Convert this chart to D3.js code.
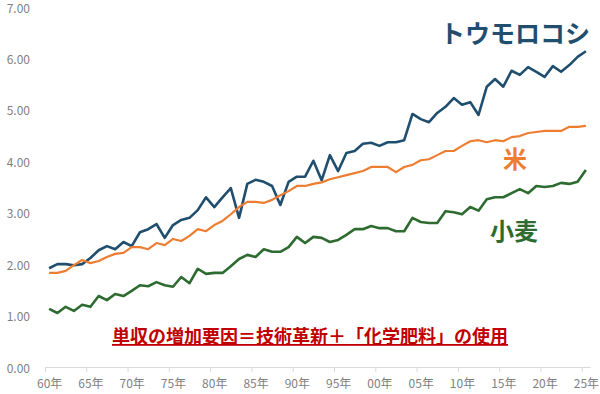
<!DOCTYPE html>
<html>
<head>
<meta charset="utf-8">
<script src="https://cdn.jsdelivr.net/npm/d3@7"></script>
<style>
  body { margin: 0; background: #fff; }
  text { font-family: "Noto Sans CJK JP", "Noto Sans", sans-serif; }
</style>
</head>
<body>
<div id="chart"></div>
<script>
// years 1960 - 2025
const years = d3.range(1960, 2026);

// yields (t/ha)
const corn = [1.92, 2.00, 2.00, 1.98, 2.00, 2.12, 2.27, 2.35, 2.29, 2.43,
  2.35, 2.62, 2.68, 2.78, 2.51, 2.76, 2.86, 2.90, 3.05, 3.30,
  3.11, 3.30, 3.48, 2.90, 3.56, 3.64, 3.60, 3.52, 3.15, 3.60,
  3.70, 3.70, 4.01, 3.63, 4.12, 3.81, 4.16, 4.20, 4.34, 4.36,
  4.30, 4.37, 4.37, 4.41, 4.92, 4.82, 4.76, 4.94, 5.06, 5.23,
  5.10, 5.15, 4.90, 5.45, 5.60, 5.45, 5.76, 5.68, 5.83, 5.74,
  5.64, 5.85, 5.74, 5.87, 6.03, 6.14];
const rice = [1.83, 1.83, 1.87, 1.98, 2.08, 2.02, 2.06, 2.14, 2.20, 2.22,
  2.33, 2.33, 2.29, 2.41, 2.37, 2.49, 2.45, 2.55, 2.68, 2.64,
  2.76, 2.84, 2.97, 3.11, 3.21, 3.21, 3.19, 3.25, 3.34, 3.42,
  3.52, 3.52, 3.56, 3.59, 3.65, 3.69, 3.73, 3.77, 3.81, 3.89,
  3.89, 3.89, 3.79, 3.89, 3.93, 4.02, 4.04, 4.12, 4.20, 4.20,
  4.30, 4.39, 4.41, 4.37, 4.41, 4.39, 4.47, 4.49, 4.55, 4.57,
  4.59, 4.59, 4.59, 4.67, 4.67, 4.69];
const wheat = [1.13, 1.05, 1.17, 1.09, 1.21, 1.17, 1.38, 1.30, 1.42, 1.38,
  1.48, 1.59, 1.57, 1.65, 1.59, 1.56, 1.75, 1.63, 1.91, 1.81,
  1.83, 1.83, 1.96, 2.10, 2.18, 2.14, 2.29, 2.24, 2.24, 2.33,
  2.53, 2.41, 2.53, 2.51, 2.43, 2.47, 2.57, 2.68, 2.68, 2.74,
  2.70, 2.70, 2.64, 2.64, 2.90, 2.82, 2.80, 2.80, 3.03, 3.01,
  2.97, 3.11, 3.04, 3.26, 3.30, 3.30, 3.38, 3.46, 3.38, 3.52,
  3.50, 3.52, 3.58, 3.56, 3.60, 3.83];

const seriesNames = ['トウモロコシ', '米', '小麦'];
const seriesColors = ['#1f4e6e', '#ed7d31', '#2e6b30'];
const yTicks = [0, 1, 2, 3, 4, 5, 6, 7];
const xLabelYears = d3.range(1960, 2026, 5);
const note = '単収の増加要因＝技術革新＋「化学肥料」の使用';

const width = 600, height = 394;

const svg = d3.select('#chart').append('svg')
  .attr('width', width)
  .attr('height', height);

//scales
const x = d3.scaleLinear()
  .domain([1959.5, 2025.5])
  .range([45, 590]);
const y = d3.scaleLinear()
  .domain([0, 7])
  .range([367, 7]);

//y axis labels, no line
const yAxis = svg.append('g')
  .attr('transform', 'translate(30,0)')
  .call(d3.axisLeft(y).tickValues(yTicks).tickSize(0).tickPadding(0).tickFormat(d3.format('.2f')));
yAxis.select('.domain').remove();
yAxis.selectAll('text')
  .attr('fill', '#7f7f7f')
  .attr('dy', '0.42em')
  .style('font-size', '12px');

//x axis: tick marks between categories
const xTicks = svg.append('g')
  .attr('transform', 'translate(0,367)')
  .call(d3.axisBottom(x).tickValues(d3.range(1959.5, 2026, 5)).tickSize(5).tickSizeOuter(0).tickFormat(''));
xTicks.select('.domain').attr('stroke', '#d9d9d9');
xTicks.selectAll('.tick line').attr('stroke', '#d9d9d9');

//x labels on category centers
const xLabels = svg.append('g')
  .attr('transform', 'translate(0,367)')
  .call(d3.axisBottom(x).tickValues(xLabelYears).tickSize(0).tickPadding(12)
    .tickFormat(d => String(d % 100).padStart(2, '0') + '年'));
xLabels.select('.domain').remove();
xLabels.selectAll('text').attr('fill', '#7f7f7f').style('font-size', '12px');

//lines
const line = d3.line()
  .x((d, i) => x(years[i]))
  .y(d => y(d));

[corn, rice, wheat].forEach((vals, i) => {
  svg.append('path')
    .datum(vals)
    .attr('fill', 'none')
    .attr('stroke', seriesColors[i])
    .attr('stroke-width', i == 1 ? 2.2 : 2.6)
    .attr('stroke-linejoin', 'round')
    .attr('d', line);
});

//series labels
svg.append('text')
  .attr('x', 515).attr('y', 43)
  .attr('text-anchor', 'middle')
  .attr('fill', seriesColors[0])
  .style('font-size', '25px').style('font-weight', 'bold')
  .text(seriesNames[0]);
svg.append('text')
  .attr('x', 515).attr('y', 168)
  .attr('text-anchor', 'middle')
  .attr('fill', seriesColors[1])
  .style('font-size', '24px').style('font-weight', 'bold')
  .text(seriesNames[1]);
svg.append('text')
  .attr('x', 514).attr('y', 240)
  .attr('text-anchor', 'middle')
  .attr('fill', seriesColors[2])
  .style('font-size', '24px').style('font-weight', 'bold')
  .text(seriesNames[2]);

//annotation
svg.append('text')
  .attr('x', 310).attr('y', 343)
  .attr('text-anchor', 'middle')
  .attr('fill', '#c00000')
  .style('font-size', '18px').style('font-weight', 'bold')
  .style('text-decoration', 'underline')
  .text(note);
</script>
</body>
</html>
